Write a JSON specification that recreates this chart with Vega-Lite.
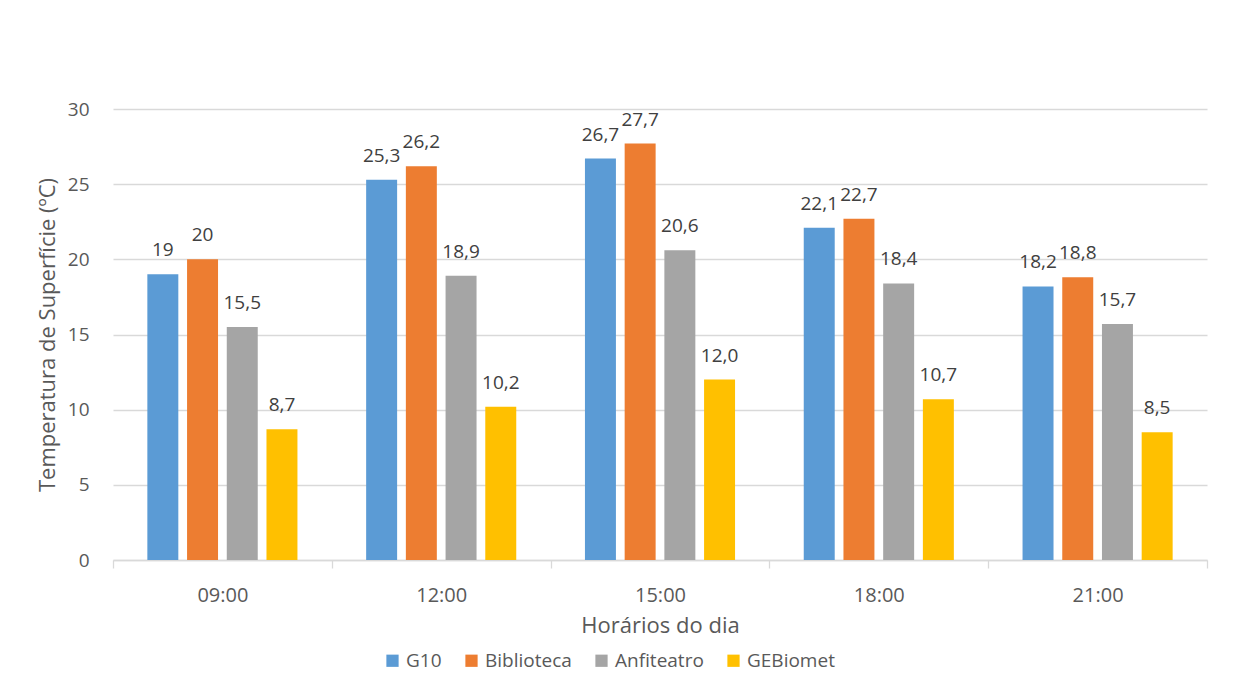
{
  "$schema": "https://vega.github.io/schema/vega-lite/v6.json",
  "width": 1094,
  "height": 451,
  "autosize": {"type": "none"},
  "padding": {"left": 113, "top": 109, "right": 29, "bottom": 117},
  "background": "white",
  "config": {
    "view": {"stroke": null},
    "font": "Open Sans",
    "axis": {"labelColor": "#595959", "titleColor": "#595959", "labelFont": "Open Sans", "titleFont": "Open Sans", "titleFontWeight": "normal"},
    "legend": {"labelColor": "#595959", "labelFont": "Open Sans"}
  },
  "data": {
    "values": [
      {"hora": "09:00", "local": "G10", "valor": 19, "rotulo": "19"},
      {"hora": "09:00", "local": "Biblioteca", "valor": 20, "rotulo": "20"},
      {"hora": "09:00", "local": "Anfiteatro", "valor": 15.5, "rotulo": "15,5"},
      {"hora": "09:00", "local": "GEBiomet", "valor": 8.7, "rotulo": "8,7"},
      {"hora": "12:00", "local": "G10", "valor": 25.3, "rotulo": "25,3"},
      {"hora": "12:00", "local": "Biblioteca", "valor": 26.2, "rotulo": "26,2"},
      {"hora": "12:00", "local": "Anfiteatro", "valor": 18.9, "rotulo": "18,9"},
      {"hora": "12:00", "local": "GEBiomet", "valor": 10.2, "rotulo": "10,2"},
      {"hora": "15:00", "local": "G10", "valor": 26.7, "rotulo": "26,7"},
      {"hora": "15:00", "local": "Biblioteca", "valor": 27.7, "rotulo": "27,7"},
      {"hora": "15:00", "local": "Anfiteatro", "valor": 20.6, "rotulo": "20,6"},
      {"hora": "15:00", "local": "GEBiomet", "valor": 12.0, "rotulo": "12,0"},
      {"hora": "18:00", "local": "G10", "valor": 22.1, "rotulo": "22,1"},
      {"hora": "18:00", "local": "Biblioteca", "valor": 22.7, "rotulo": "22,7"},
      {"hora": "18:00", "local": "Anfiteatro", "valor": 18.4, "rotulo": "18,4"},
      {"hora": "18:00", "local": "GEBiomet", "valor": 10.7, "rotulo": "10,7"},
      {"hora": "21:00", "local": "G10", "valor": 18.2, "rotulo": "18,2"},
      {"hora": "21:00", "local": "Biblioteca", "valor": 18.8, "rotulo": "18,8"},
      {"hora": "21:00", "local": "Anfiteatro", "valor": 15.7, "rotulo": "15,7"},
      {"hora": "21:00", "local": "GEBiomet", "valor": 8.5, "rotulo": "8,5"}
    ]
  },
  "encoding": {
    "x": {
      "field": "hora", "type": "nominal",
      "scale": {"paddingInner": 0, "paddingOuter": 0},
      "axis": {
        "title": "Horários do dia", "titleFontSize": 22, "titlePadding": 10,
        "labelAngle": 0, "labelFontSize": 20, "labelPadding": 17,
        "domainColor": "#d9d9d9", "domainWidth": 1.3,
        "tickBand": "extent", "tickColor": "#d9d9d9", "tickSize": 8, "tickWidth": 1.3,
        "grid": false
      }
    },
    "xOffset": {
      "field": "local", "type": "nominal",
      "sort": ["G10", "Biblioteca", "Anfiteatro", "GEBiomet"],
      "scale": {"paddingInner": 0.22, "paddingOuter": 0.865}
    },
    "y": {
      "field": "valor", "type": "quantitative",
      "scale": {"domain": [0, 30]},
      "axis": {
        "title": "Temperatura de Superfície (ºC)", "titleFontSize": 22, "titlePadding": 8,
        "values": [0, 5, 10, 15, 20, 25, 30],
        "labelFontSize": 19, "labelPadding": 24,
        "domain": false, "ticks": false,
        "gridColor": "#d9d9d9", "gridWidth": 1.3
      }
    }
  },
  "layer": [
    {
      "mark": {"type": "bar"},
      "encoding": {
        "color": {
          "field": "local", "type": "nominal",
          "sort": ["G10", "Biblioteca", "Anfiteatro", "GEBiomet"],
          "scale": {"domain": ["G10", "Biblioteca", "Anfiteatro", "GEBiomet"], "range": ["#5b9bd5", "#ed7d31", "#a5a5a5", "#ffc000"]},
          "legend": {
            "title": null, "orient": "none", "direction": "horizontal",
            "legendX": 270, "legendY": 542,
            "symbolType": "square", "symbolSize": 150, "symbolStrokeWidth": 0,
            "labelFontSize": 19, "columnPadding": 20, "labelOffset": 4
          }
        }
      }
    },
    {
      "mark": {"type": "text", "baseline": "alphabetic", "dy": -18, "fontSize": 19, "color": "#404040"},
      "encoding": {
        "text": {"field": "rotulo"}
      }
    }
  ]
}
